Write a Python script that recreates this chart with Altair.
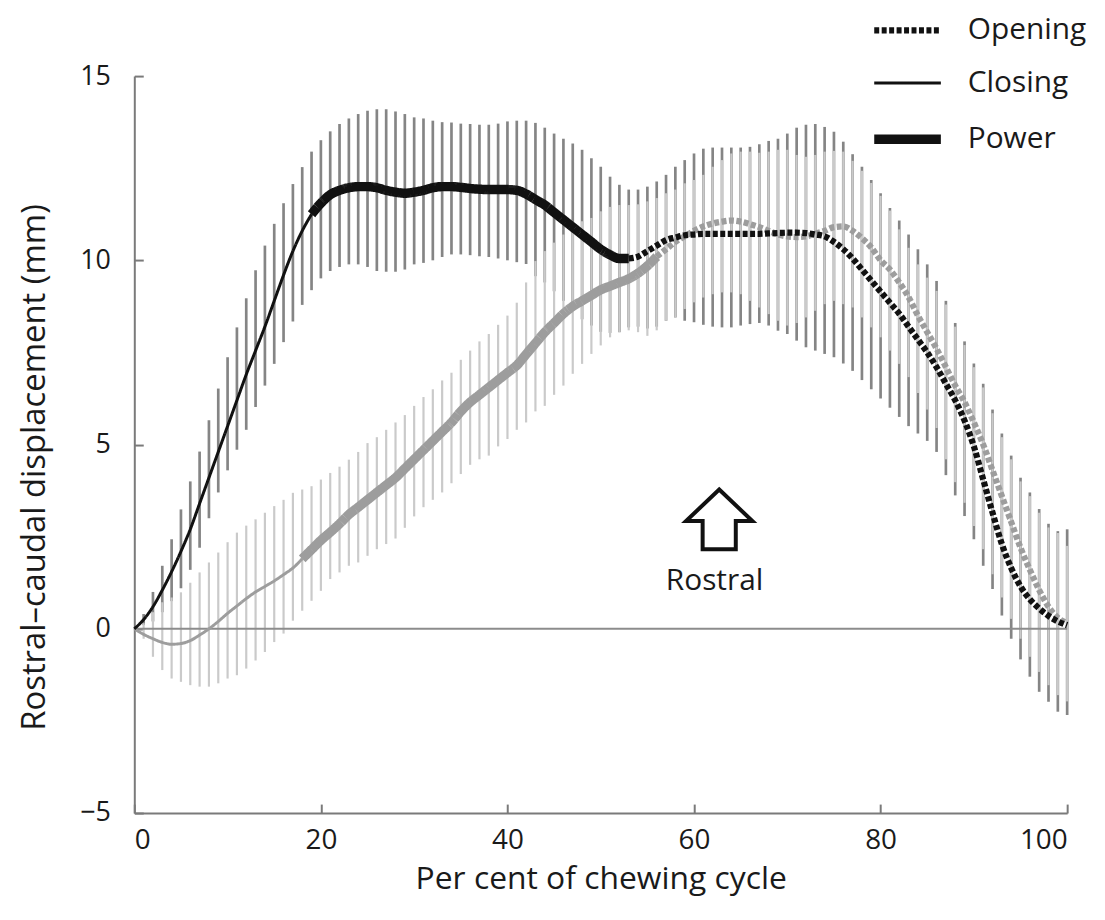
import altair as alt
import pandas as pd

# ---------------- data ----------------
pct = list(range(101))

black_mean = [0.0, 0.25, 0.6, 1.05, 1.55, 2.1, 2.7, 3.4, 4.1, 4.8,
              5.5, 6.2, 6.9, 7.55, 8.2, 8.9, 9.6, 10.25, 10.8, 11.25,
              11.55, 11.78, 11.9, 11.97, 12.0, 12.0, 11.97, 11.9, 11.85, 11.82,
              11.85, 11.9, 11.97, 12.0, 12.0, 11.98, 11.95, 11.93, 11.92, 11.92,
              11.92, 11.9, 11.8, 11.65, 11.5, 11.3, 11.1, 10.9, 10.7, 10.5,
              10.3, 10.15, 10.05, 10.05, 10.1, 10.25, 10.4, 10.55, 10.62, 10.68,
              10.7, 10.72, 10.72, 10.72, 10.72, 10.72, 10.72, 10.72, 10.73, 10.74,
              10.75, 10.75, 10.74, 10.7, 10.65, 10.5, 10.3, 10.05, 9.75, 9.45,
              9.15, 8.85, 8.55, 8.2, 7.85, 7.5, 7.1, 6.65, 6.2, 5.65,
              4.95, 4.05, 3.15, 2.3, 1.65, 1.15, 0.8, 0.55, 0.35, 0.2,
              0.1]
black_hi = [0.0, 0.4, 1.0, 1.71, 2.43, 3.24, 4.0, 4.81, 5.66, 6.52,
            7.37, 8.18, 8.97, 9.73, 10.4, 10.99, 11.55, 12.07, 12.53, 12.95,
            13.26, 13.5, 13.7, 13.85, 13.97, 14.06, 14.1, 14.1, 14.04, 13.97,
            13.88, 13.85, 13.79, 13.75, 13.74, 13.71, 13.7, 13.68, 13.68, 13.71,
            13.77, 13.79, 13.79, 13.73, 13.6, 13.44, 13.3, 13.17, 13.0, 12.77,
            12.54, 12.27, 12.05, 11.92, 11.92, 12.0, 12.14, 12.32, 12.54, 12.72,
            12.9, 13.03, 13.06, 13.06, 13.06, 13.06, 13.08, 13.15, 13.24, 13.3,
            13.44, 13.6, 13.68, 13.7, 13.62, 13.49, 13.22, 12.88, 12.54, 12.18,
            11.82, 11.42, 11.08, 10.7, 10.3, 9.89, 9.44, 8.9, 8.3, 7.8,
            7.2, 6.65, 5.95, 5.3, 4.7, 4.1, 3.7, 3.25, 2.85, 2.65,
            2.7]
black_lo = [0.0, 0.1, 0.2, 0.45, 0.75, 1.1, 1.6, 2.2, 3.0, 3.7,
            4.3, 4.86, 5.4, 6.02, 6.6, 7.19, 7.78, 8.34, 8.79, 9.19,
            9.51, 9.71, 9.82, 9.89, 9.89, 9.82, 9.71, 9.69, 9.69, 9.75,
            9.89, 9.93, 10.0, 10.09, 10.16, 10.16, 10.14, 10.11, 10.09, 10.05,
            10.0, 9.95, 9.9, 9.57, 9.4, 9.16, 8.9, 8.63, 8.4, 8.23,
            8.06, 8.03, 8.05, 8.18, 8.2, 8.15, 8.2, 8.36, 8.45, 8.36,
            8.32, 8.25, 8.2, 8.18, 8.18, 8.23, 8.27, 8.3, 8.23, 8.09,
            8.0, 7.82, 7.64, 7.55, 7.46, 7.37, 7.2, 7.0, 6.75, 6.5,
            6.25, 6.0, 5.75, 5.5, 5.3, 5.1, 4.8, 4.17, 3.62, 3.06,
            2.43, 1.71, 1.08, 0.36, -0.27, -0.83, -1.3, -1.71, -1.98, -2.25,
            -2.34]

gray_mean = [0.0, -0.15, -0.27, -0.37, -0.42, -0.4, -0.32, -0.17, 0.0, 0.2,
             0.42, 0.62, 0.82, 1.0, 1.15, 1.3, 1.47, 1.65, 1.9, 2.15,
             2.4, 2.62, 2.85, 3.1, 3.3, 3.5, 3.7, 3.9, 4.1, 4.35,
             4.6, 4.85, 5.1, 5.35, 5.6, 5.9, 6.15, 6.35, 6.55, 6.75,
             6.95, 7.15, 7.45, 7.75, 8.05, 8.3, 8.55, 8.75, 8.9, 9.05,
             9.2, 9.3, 9.4, 9.5, 9.65, 9.85, 10.1, 10.3, 10.5, 10.65,
             10.8, 10.92, 11.0, 11.05, 11.08, 11.05, 10.98, 10.9, 10.8, 10.7,
             10.65, 10.63, 10.65, 10.72, 10.8, 10.9, 10.92, 10.8, 10.6, 10.35,
             10.0, 9.75, 9.4, 9.0, 8.5, 8.05, 7.6, 7.1, 6.6, 6.15,
             5.6, 5.0, 4.3, 3.6, 2.9, 2.2, 1.6, 1.05, 0.6, 0.3,
             0.15]
gray_hi = [0.0, 0.15, 0.45, 0.72, 0.85, 0.99, 1.25, 1.53, 1.8, 2.07,
           2.35, 2.61, 2.8, 2.97, 3.15, 3.33, 3.5, 3.69, 3.78, 3.87,
           4.05, 4.23, 4.4, 4.59, 4.8, 5.04, 5.2, 5.4, 5.6, 5.8,
           6.05, 6.29, 6.5, 6.74, 6.95, 7.3, 7.55, 7.8, 8.0, 8.25,
           8.5, 8.85, 9.4, 9.98, 10.25, 10.48, 10.7, 10.88, 11.06, 11.15,
           11.33, 11.45, 11.5, 11.5, 11.52, 11.6, 11.69, 11.82, 11.92, 12.09,
           12.18, 12.32, 12.54, 12.72, 12.9, 12.95, 12.95, 12.92, 12.95, 13.0,
           13.0, 12.86, 12.81, 12.86, 12.95, 12.97, 12.95, 12.7, 12.43, 12.1,
           11.75, 11.35, 10.84, 10.34, 9.89, 9.53, 9.17, 8.8, 8.2, 7.7,
           7.1, 6.55, 5.85, 5.2, 4.6, 4.0, 3.6, 3.15, 2.75, 2.6,
           2.25]
gray_lo = [0.0, -0.27, -0.76, -1.12, -1.35, -1.44, -1.53, -1.57, -1.57, -1.48,
           -1.35, -1.26, -1.08, -0.86, -0.63, -0.36, -0.13, 0.22, 0.49, 0.76,
           1.03, 1.35, 1.53, 1.71, 1.8, 1.98, 2.16, 2.3, 2.45, 2.74,
           3.05, 3.3, 3.5, 3.7, 3.95, 4.2, 4.45, 4.6, 4.7, 4.95,
           5.15, 5.4, 5.6, 5.9, 6.05, 6.35, 6.6, 6.92, 7.19, 7.46,
           7.69, 7.91, 8.05, 8.1, 8.05, 7.95, 8.1, 8.36, 8.45, 8.68,
           8.86, 8.99, 9.08, 9.13, 9.13, 9.08, 8.9, 8.72, 8.54, 8.36,
           8.23, 8.3, 8.45, 8.63, 8.81, 8.9, 8.81, 8.72, 8.45, 8.18,
           7.91, 7.55, 7.19, 6.83, 6.4, 5.95, 5.45, 4.6, 3.98, 3.42,
           2.79, 2.16, 1.48, 0.85, 0.27, -0.27, -0.76, -1.17, -1.53, -1.8,
           -1.97]

# phase boundaries (per cent of cycle) for each series: Closing | Power | Opening
black_phase_edges = [19, 53]
gray_phase_edges = [18, 56]
phase_sequence = ["Closing", "Power", "Opening"]
phase_domain = ["Closing", "Opening", "Power"]
legend_order = ["Opening", "Closing", "Power"]

x_ticks = [0, 20, 40, 60, 80, 100]
y_ticks = [-5, 0, 5, 10, 15]

annot_label_pct = [62.2]
annot_label_y = [1.3]
annot_label = ["Rostral"]
annot_arrow_pct = [62.7]
annot_arrow_y = [2.97]

# ---------------- layout / style ----------------
W, H = 938, 741
FONT = "Open Sans"
TXT = "#1a1a1a"
AX = "#7a7a7a"
ARROW_PATH = "M0,-0.9L1,0.05L0.5,0.05L0.5,0.9L-0.5,0.9L-0.5,0.05L-1,0.05Z"

bars_dark = pd.DataFrame({"pct": pct, "lo": black_lo, "hi": black_hi})
bars_light = pd.DataFrame({"pct": pct, "lo": gray_lo, "hi": gray_hi})

rows = []
for series, mean, edges in [("light", gray_mean, gray_phase_edges),
                            ("dark", black_mean, black_phase_edges)]:
    bounds = [0] + edges + [100]
    for p, name in enumerate(phase_sequence):
        for i in range(bounds[p], bounds[p + 1] + 1):
            rows.append({"pct": pct[i], "val": mean[i], "series": series, "phase": name})
lines = pd.DataFrame(rows)

zero_df = pd.DataFrame({"y": [0]})
arrow_df = pd.DataFrame({"pct": annot_arrow_pct, "y": annot_arrow_y})
label_df = pd.DataFrame({"pct": annot_label_pct, "y": annot_label_y, "t": annot_label})

xscale = alt.Scale(domain=[0, 100], nice=False, zero=False)
yscale = alt.Scale(domain=[-5, 15], nice=False, zero=False)

main_x_axis = alt.Axis(values=x_ticks, title="Per cent of chewing cycle", ticks=False,
                       grid=False, domainColor=AX, domainWidth=2,
                       labelFont=FONT, labelFontSize=28, labelColor=TXT, labelPadding=14,
                       titleFont=FONT, titleFontSize=32, titleColor=TXT,
                       titleFontWeight="normal", titleBaseline="middle",
                       titleX=W / 2, titleY=66)
main_y_axis = alt.Axis(values=y_ticks, title="Rostral\u2013caudal displacement (mm)", ticks=False,
                       grid=False, domainColor=AX, domainWidth=2,
                       labelFont=FONT, labelFontSize=27, labelColor=TXT, labelPadding=24,
                       titleFont=FONT, titleFontSize=33, titleColor=TXT,
                       titleFontWeight="normal", titleBaseline="middle", titleAngle=270,
                       titleAlign="center", titleX=-100, titleY=393)
tick_x_axis = alt.Axis(orient="top", offset=-H, values=x_ticks, labels=False, domain=False,
                       ticks=True, tickSize=9, tickWidth=2, tickColor=AX, grid=False, title=None)
tick_y_axis = alt.Axis(orient="right", offset=-W, values=y_ticks, labels=False, domain=False,
                       ticks=True, tickSize=9, tickWidth=2, tickColor=AX, grid=False, title=None)

dark_bars = alt.Chart(bars_dark).mark_rule(color="#858585", strokeWidth=2.7).encode(
    x=alt.X("pct:Q", scale=xscale, axis=main_x_axis),
    y=alt.Y("lo:Q", scale=yscale, axis=main_y_axis),
    y2="hi:Q",
)
light_bars = alt.Chart(bars_light).mark_rule(color="#cacaca", strokeWidth=2.2).encode(
    x=alt.X("pct:Q", scale=xscale, axis=tick_x_axis),
    y=alt.Y("lo:Q", scale=yscale, axis=tick_y_axis),
    y2="hi:Q",
)
zero_line = alt.Chart(zero_df).mark_rule(color="#8c8c8c", strokeWidth=2).encode(
    y=alt.Y("y:Q", scale=yscale, axis=None)
)

legend = alt.Legend(title=None, orient="none", legendX=739, legendY=-83, values=legend_order,
                    symbolType="stroke", symbolSize=4489, symbolStrokeColor="#111111",
                    symbolOpacity=1, labelFont=FONT, labelFontSize=30, labelColor=TXT,
                    labelOffset=22, rowPadding=3, padding=0)

line_layer = alt.Chart(lines).mark_line(interpolate="monotone", strokeCap="butt").encode(
    x=alt.X("pct:Q", scale=xscale, axis=None),
    y=alt.Y("val:Q", scale=yscale, axis=None),
    color=alt.Color("series:N", scale=alt.Scale(domain=["light", "dark"],
                                                range=["#9d9d9d", "#111111"]), legend=None),
    strokeDash=alt.StrokeDash("phase:O", scale=alt.Scale(domain=phase_domain,
                                                         range=[[1, 0], [5, 2.5], [1, 0]]),
                              legend=legend),
    strokeWidth=alt.StrokeWidth("phase:O", scale=alt.Scale(domain=phase_domain, range=[3, 9.5]),
                                legend=legend),
    order="pct:Q",
)

arrow = alt.Chart(arrow_df).mark_point(shape=ARROW_PATH, size=4444, filled=False,
                                       stroke="#111111", strokeWidth=4, opacity=1,
                                       strokeJoin="miter").encode(
    x=alt.X("pct:Q", scale=xscale, axis=None),
    y=alt.Y("y:Q", scale=yscale, axis=None),
)
label = alt.Chart(label_df).mark_text(font=FONT, fontSize=30, color=TXT,
                                      baseline="middle", align="center").encode(
    x=alt.X("pct:Q", scale=xscale, axis=None),
    y=alt.Y("y:Q", scale=yscale, axis=None),
    text="t:N",
)

chart = alt.layer(dark_bars, light_bars, zero_line, line_layer, arrow, label).resolve_axis(
    x="independent", y="independent"
).properties(
    width=W, height=H,
    autosize=alt.AutoSizeParams(type="none"),
    padding={"left": 127, "top": 66, "right": 30, "bottom": 88},
    background="white",
).configure_view(stroke=None)

chart.save("out.html", embed_options={"renderer": "svg", "actions": False})
